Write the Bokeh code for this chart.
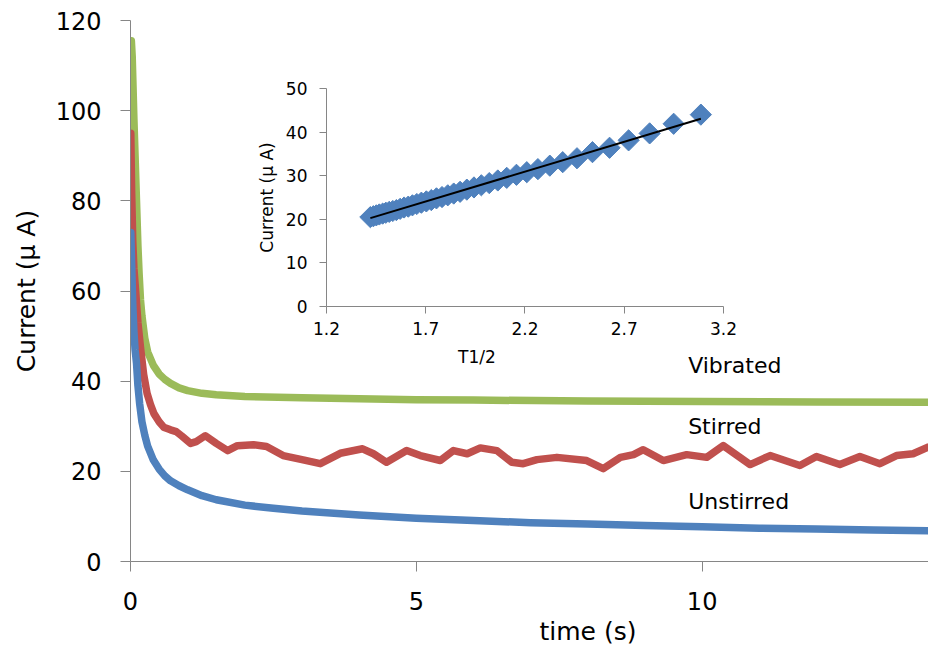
import numpy as np
from bokeh.plotting import figure
from bokeh.models import Range1d, LinearAxis, FixedTicker, Label, Title
from bokeh.embed import file_html
from bokeh.resources import INLINE

# ---------------- main chart data ----------------
t_unstirred = [0.005, 0.02, 0.04, 0.06, 0.08, 0.105, 0.13, 0.16, 0.2, 0.25, 0.3, 0.4, 0.5,
               0.6, 0.7, 0.85, 1.0, 1.25, 1.5, 2.0, 2.5, 3.0, 4.0, 5.0, 6.0, 7.0, 8.0,
               9.0, 10.0, 11.0, 12.0, 13.0, 13.96]
i_unstirred = [73, 66, 57, 51, 47, 44, 39, 35, 31, 28, 25.6, 22.5, 20.5,
               19.0, 17.9, 16.8, 15.9, 14.6, 13.7, 12.5, 11.8, 11.2, 10.3, 9.6, 9.1, 8.6, 8.3,
               8.0, 7.7, 7.4, 7.2, 7.0, 6.8]

t_stirred = [0.005, 0.02, 0.04, 0.06, 0.09, 0.13, 0.175, 0.23, 0.29, 0.35, 0.41, 0.5, 0.58,
             0.7, 0.8, 0.9, 1.05, 1.15, 1.31, 1.5, 1.7, 1.87, 2.15, 2.38, 2.67, 3.0, 3.32,
             3.67, 4.06, 4.25, 4.48, 4.83, 5.07, 5.42, 5.65, 5.89, 6.12, 6.41, 6.67, 6.87,
             7.11, 7.46, 7.98, 8.27, 8.57, 8.8, 8.97, 9.32, 9.73, 10.08, 10.37, 10.84,
             11.19, 11.71, 12.0, 12.41, 12.76, 13.11, 13.4, 13.69, 13.96]
i_stirred = [95, 82, 71, 65, 60, 53, 47.5, 41.5, 37.3, 34.8, 32.8, 31.0, 29.8,
             29.2, 28.8, 27.8, 26.2, 26.6, 27.9, 26.2, 24.6, 25.7, 25.9, 25.5, 23.5, 22.6, 21.7,
             24.0, 25.0, 23.9, 22.0, 24.6, 23.5, 22.4, 24.6, 23.9, 25.2, 24.6, 22.0, 21.7,
             22.6, 23.1, 22.4, 20.6, 23.1, 23.7, 24.8, 22.4, 23.7, 23.1, 25.7, 21.5,
             23.5, 21.3, 23.3, 21.5, 23.3, 21.7, 23.5, 23.9, 25.4]

t_vibrated = [0.015, 0.03, 0.045, 0.06, 0.08, 0.105, 0.13, 0.15, 0.175, 0.2, 0.25, 0.3, 0.4,
              0.5, 0.6, 0.7, 0.85, 1.0, 1.25, 1.5, 2.0, 3.0, 4.0, 5.0, 6.0, 8.0, 10.0,
              12.0, 13.96]
i_vibrated = [115.5, 112, 105, 98, 90, 80, 70, 64, 58, 54.5, 49.5, 46.5, 43.5,
              41.6, 40.4, 39.5, 38.5, 37.9, 37.3, 37.0, 36.6, 36.3, 36.1, 35.9, 35.8, 35.6, 35.5,
              35.4, 35.3]

main_x_ticks = [0, 5, 10]
main_y_ticks = [0, 20, 40, 60, 80, 100, 120]

# ---------------- inset data ----------------
inset_x = [3.086, 2.949, 2.828, 2.722, 2.626, 2.540, 2.462, 2.390, 2.325, 2.265,
           2.209, 2.157, 2.108, 2.063, 2.020, 1.980, 1.943, 1.907, 1.873, 1.841,
           1.811, 1.782, 1.754, 1.728, 1.703, 1.678, 1.655, 1.633, 1.612, 1.591,
           1.571, 1.552, 1.534, 1.516, 1.499, 1.483, 1.466, 1.451, 1.436, 1.421]
inset_y = [44.0, 41.9, 39.7, 38.1, 36.4, 35.4, 34.0, 33.1, 32.3, 31.5,
           30.8, 30.2, 29.5, 28.9, 28.3, 27.8, 27.3, 26.8, 26.3, 25.9,
           25.5, 25.1, 24.8, 24.4, 24.1, 23.8, 23.5, 23.2, 22.9, 22.7,
           22.4, 22.1, 21.9, 21.7, 21.5, 21.3, 21.1, 20.9, 20.7, 20.5]
inset_x_ticks = [1.2, 1.7, 2.2, 2.7, 3.2]
inset_y_ticks = [0, 10, 20, 30, 40, 50]

BLUE = "#4F81BD"
RED = "#C0504D"
GREEN = "#9BBB59"
AXIS = "#868686"
FONT = "DejaVu Sans"

p = figure(width=928, height=647, output_backend="svg", toolbar_location=None,
           x_range=Range1d(0, 13.96), y_range=Range1d(0, 120),
           min_border_left=130, min_border_right=0, min_border_top=20,
           min_border_bottom=86)
p.outline_line_color = None
p.grid.visible = False
p.background_fill_color = "white"
p.border_fill_color = "white"

# main axes
xa = p.xaxis[0]
xa.ticker = FixedTicker(ticks=main_x_ticks)
ya = p.yaxis[0]
ya.ticker = FixedTicker(ticks=main_y_ticks)
for ax in (xa, ya):
    ax.axis_line_color = AXIS
    ax.major_tick_line_color = AXIS
    ax.minor_tick_line_color = None
    ax.major_tick_out = 10
    ax.major_tick_in = 0
    ax.major_label_text_font = FONT
    ax.major_label_text_font_size = "24px"
    ax.major_label_text_color = "black"
xa.major_label_standoff = 20
ya.major_label_standoff = 19
ya.axis_label = "Current (μ A)"
ya.axis_label_text_font = FONT
ya.axis_label_text_font_size = "25px"
ya.axis_label_text_font_style = "normal"
ya.axis_label_text_color = "black"
ya.axis_label_standoff = 12

# x-axis title (the original plot area extends beyond the crop, so it sits right of centre)
p.add_layout(Title(text="time (s)", align="left", offset=409, standoff=4,
                   text_font=FONT, text_font_size="25px", text_font_style="normal",
                   text_color="black"), "below")

# main series
p.line(t_vibrated, i_vibrated, line_color=GREEN, line_width=7.5, line_join="round", line_cap="round")
p.line(t_stirred, i_stirred, line_color=RED, line_width=7.5, line_join="round", line_cap="round")
p.line(t_unstirred, i_unstirred, line_color=BLUE, line_width=7.5, line_join="round", line_cap="round")

for txt, yv in (("Vibrated", 43.5), ("Stirred", 30.0), ("Unstirred", 13.2)):
    p.add_layout(Label(x=9.755, y=yv, text=txt, text_font=FONT, text_font_size="22px",
                       text_align="left", text_baseline="middle", text_color="black"))

# ---------------- inset (extra ranges) ----------------
p.extra_x_ranges = {"ix": Range1d(0.2126, 4.2328)}
p.extra_y_ranges = {"iy": Range1d(-58.49, 65.59)}

iya = LinearAxis(x_range_name="ix", y_range_name="iy", fixed_location=1.2, bounds=(0, 50),
                 ticker=FixedTicker(ticks=inset_y_ticks))
ixa = LinearAxis(x_range_name="ix", y_range_name="iy", fixed_location=0, bounds=(1.2, 3.2),
                 ticker=FixedTicker(ticks=inset_x_ticks))
for ax in (iya, ixa):
    ax.axis_line_color = AXIS
    ax.major_tick_line_color = AXIS
    ax.minor_tick_line_color = None
    ax.major_tick_out = 7
    ax.major_tick_in = 0
    ax.major_label_text_font = FONT
    ax.major_label_text_font_size = "17px"
    ax.major_label_text_color = "black"
iya.major_label_standoff = 12
ixa.major_label_standoff = 9
iya.axis_label = "Current (μ A)"
iya.axis_label_text_font = FONT
iya.axis_label_text_font_size = "17px"
iya.axis_label_text_font_style = "normal"
iya.axis_label_text_color = "black"
iya.axis_label_standoff = 6
p.add_layout(iya, "left")
p.add_layout(ixa, "below")

p.scatter(inset_x, inset_y, marker="square", angle=np.pi / 4, size=15,
          fill_color=BLUE, line_color=BLUE, x_range_name="ix", y_range_name="iy")

slope, intercept = np.polyfit(inset_x, inset_y, 1)
lx = [min(inset_x), max(inset_x)]
ly = [slope * v + intercept for v in lx]
p.line(lx, ly, line_color="black", line_width=2, x_range_name="ix", y_range_name="iy")

p.add_layout(Label(x=1.958, y=-11.5, text="T1/2", text_font=FONT, text_font_size="17px",
                   text_align="center", text_baseline="middle", text_color="black",
                   x_range_name="ix", y_range_name="iy"))

open("out.html", "w").write(file_html(p, INLINE))
